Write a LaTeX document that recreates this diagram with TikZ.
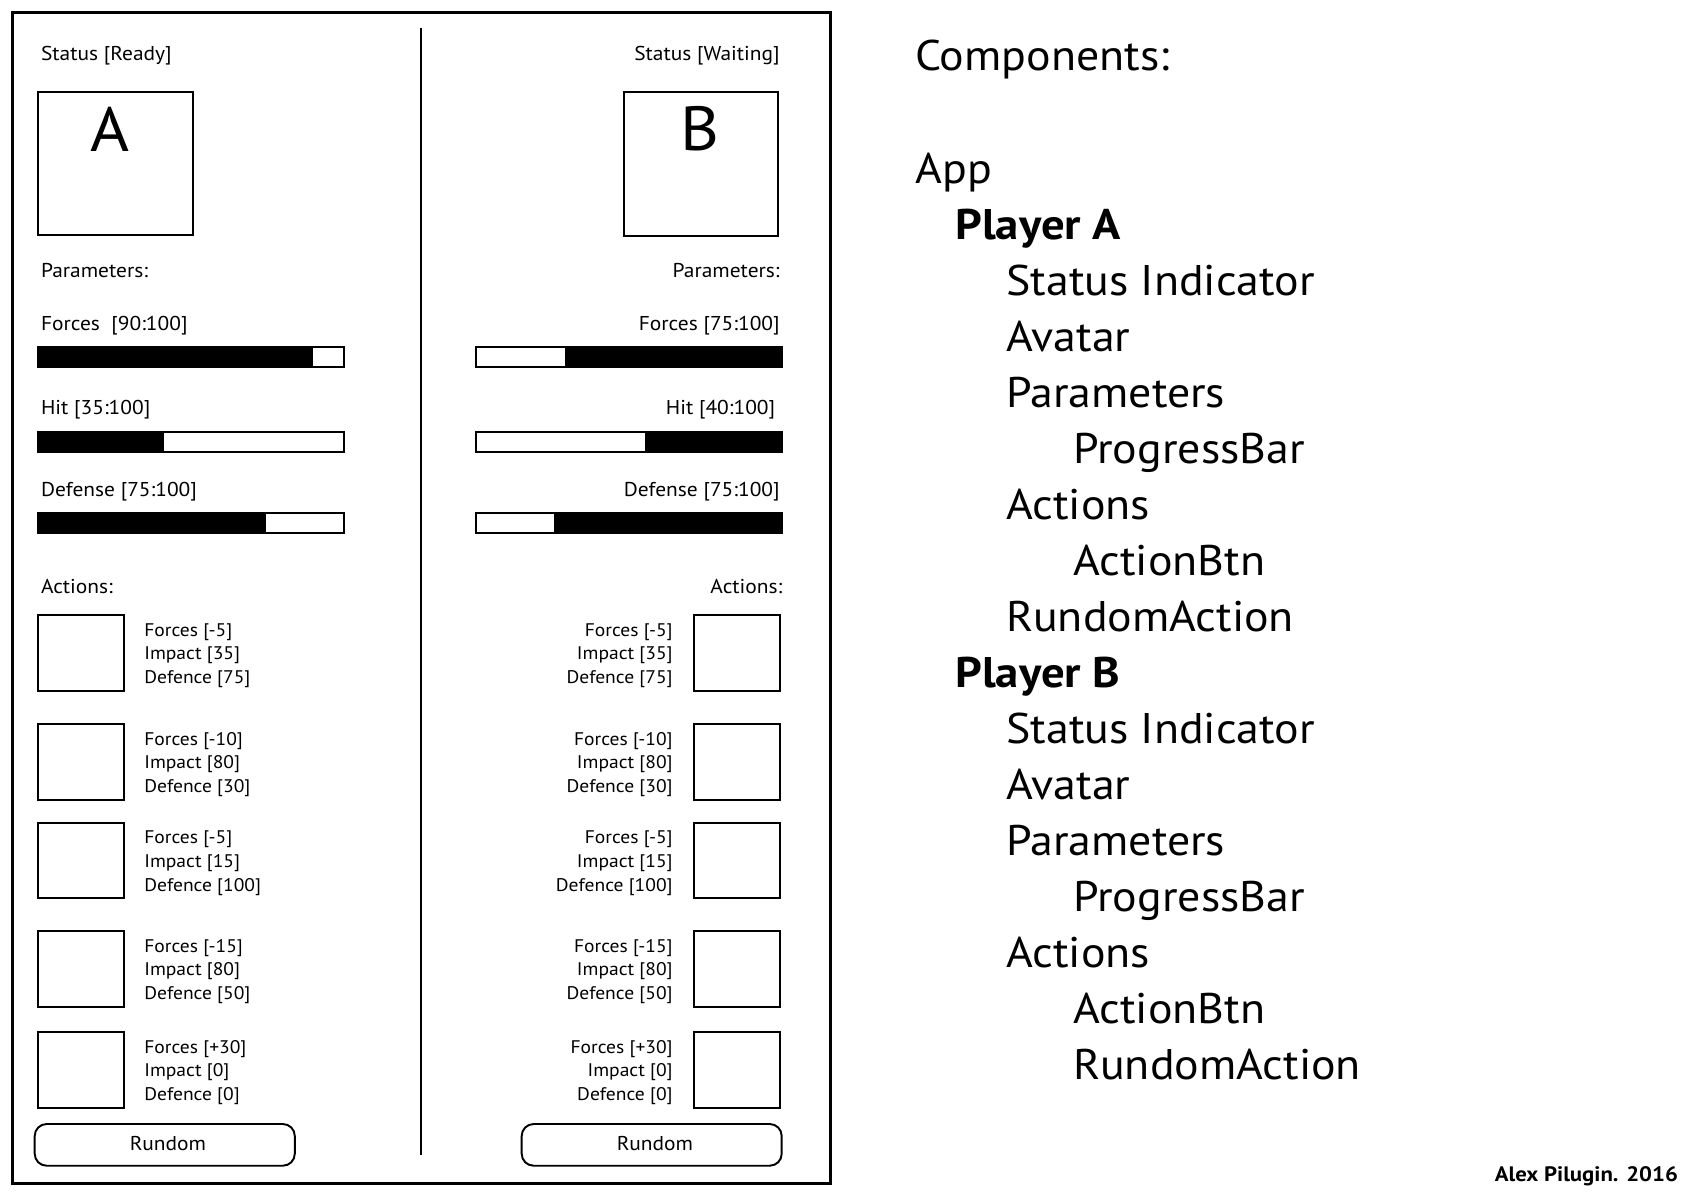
\documentclass[tikz,border=0pt]{standalone}
\usepackage{fontspec}
\setmainfont[FakeStretch=1.07,BoldFeatures={FakeStretch=1.09}]{PT Sans}
\usetikzlibrary{positioning}
\tikzstyle{frame} = [line width=1.7pt]
\tikzstyle{box} = [line width=1.1pt]
\tikzstyle{lbl} = [inner sep=0pt, font=\fontsize{11.4}{13}\selectfont]
\tikzstyle{act} = [inner sep=0pt, font=\fontsize{10.4}{12}\selectfont]
\tikzstyle{tree} = [inner sep=0pt, anchor=base west, font=\fontsize{24.4}{28}\selectfont]
\tikzstyle{avatar} = [inner sep=0pt, anchor=base, font=\fontsize{35.5}{40}\selectfont]

\begin{document}
\begin{tikzpicture}[x=0.02cm,y=-0.02cm]
\useasboundingbox (0,0) rectangle (1700,1197);
% window and divider
\draw[frame] (12.5,12.5) rectangle (830,1183.5);
\coordinate (divtop) at (421,28);
\coordinate (divbot) at (421,1155);
\draw[line width=1.4pt] (divtop)--(divbot);
%
% player A
\node[lbl,anchor=base west] (statusA) at (40.7,60.5) {Status [Ready]};
\draw[box] (38.3,91.7) rectangle (192.7,235);
\node[avatar] (avA) at (110,151) {A};
\node[lbl,anchor=base west] (parA) at (40.7,277) {Parameters:};
\node[lbl,anchor=base west] (forA) at (40.7,330.7) {Forces\ \ [90:100]};
\fill (37.7,346.7) rectangle (312.7,367.3);
\draw[box] (37.7,346.7) rectangle (343.7,367.3);
\node[lbl,anchor=base west] (hitA) at (40.7,414) {Hit [35:100]};
\fill (37.7,431.7) rectangle (164,451.7);
\draw[box] (37.7,431.7) rectangle (343.7,451.7);
\node[lbl,anchor=base west] (defA) at (40.7,496) {Defense [75:100]};
\fill (37.7,512.7) rectangle (266,533.3);
\draw[box] (37.7,512.7) rectangle (343.7,533.3);
\node[lbl,anchor=base west] (actA) at (40.7,593.3) {Actions:};
%
% player B
\node[lbl,anchor=base east] (statusB) at (780,60.5) {Status [Waiting]};
\draw[box] (623.7,91.7) rectangle (778.3,235.7);
\node[avatar] (avB) at (700,150) {B};
\node[lbl,anchor=base east] (parB) at (780,277) {Parameters:};
\node[lbl,anchor=base east] (forB) at (780,330.7) {Forces [75:100]};
\fill (564.7,346.7) rectangle (781.7,367.3);
\draw[box] (475.7,346.7) rectangle (781.7,367.3);
\node[lbl,anchor=base east] (hitB) at (775.5,414) {Hit [40:100]};
\fill (645,431.7) rectangle (781.7,451.7);
\draw[box] (475.7,431.7) rectangle (781.7,451.7);
\node[lbl,anchor=base east] (defB) at (780,496) {Defense [75:100]};
\fill (554,512.7) rectangle (781.7,533.3);
\draw[box] (475.7,512.7) rectangle (781.7,533.3);
\node[lbl,anchor=base east] (actB) at (782.7,593.3) {Actions:};
%
% action buttons, same values on both sides
\foreach \t/\f/\m/\d [count=\n] in {615/-5/35/75, 724/-10/80/30, 822.7/-5/15/100, 931/-15/80/50, 1032/+30/0/0}
{
  \draw[box] (38.3,\t) rectangle ++(85.4,75.7);
  \node[act,anchor=base west] (fA\n) at (144,\t+21) {Forces [\f]};
  \node[act,anchor=base west] (iA\n) at (144,\t+44.7) {Impact [\m]};
  \node[act,anchor=base west] (dA\n) at (144,\t+68.3) {Defence [\d]};
  \draw[box] (694,\t) rectangle ++(85.7,75.7);
  \node[act,anchor=base east] (fB\n) at (673,\t+21) {Forces [\f]};
  \node[act,anchor=base east] (iB\n) at (673,\t+44.7) {Impact [\m]};
  \node[act,anchor=base east] (dB\n) at (673,\t+68.3) {Defence [\d]};
}
%
\draw[box,rounded corners=6.8pt] (34.7,1124) rectangle (294.8,1165.7);
\node[lbl,anchor=base] (rundomA) at (168,1150.7) {Rundom};
\draw[box,rounded corners=6.8pt] (521.7,1124) rectangle (781.7,1165.7);
\node[lbl,anchor=base] (rundomB) at (655,1150.7) {Rundom};
%
% component tree
\node[tree] (comp) at (915,70) {Components:};
\foreach \x/\s [count=\i from 0] in {915/App, 955/{\bfseries Player A}, 1006/Status Indicator, 1006/Avatar, 1006/Parameters, 1073/ProgressBar, 1006/Actions, 1073/ActionBtn, 1006/RundomAction, 955/{\bfseries Player B}, 1006/Status Indicator, 1006/Avatar, 1006/Parameters, 1073/ProgressBar, 1006/Actions, 1073/ActionBtn, 1073/RundomAction}
  \node[tree] (c\i) at (\x,183.3+56*\i) {\s};
%
\node[inner sep=0pt,anchor=base east,font=\bfseries\fontsize{11.9}{14}\selectfont] (credit) at (1678.3,1181.7) {Alex Pilugin. 2016};
\end{tikzpicture}
\end{document}
